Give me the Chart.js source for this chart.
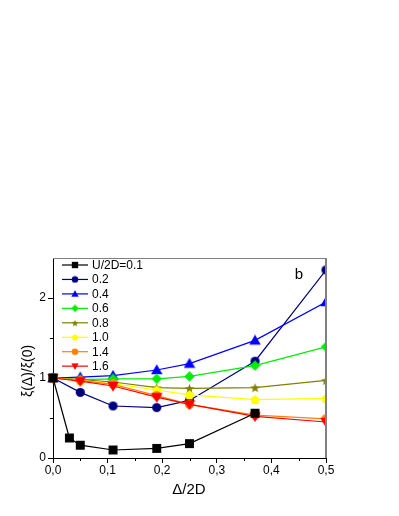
<!DOCTYPE html>
<html>
<head>
<meta charset="utf-8">
<script src="https://cdn.jsdelivr.net/npm/chart.js@4"></script>
<style>
  html, body { margin: 0; padding: 0; background: #fff; }
  #wrap { width: 399px; height: 516px; position: relative; }
</style>
</head>
<body>
<div id="wrap"><canvas id="chart"></canvas></div>
<script>
// x positions (Δ/2D)
const xBlack = [0, 0.03, 0.05, 0.11, 0.19, 0.25, 0.37];
const xOthers = [0, 0.05, 0.11, 0.19, 0.25, 0.37, 0.5];

// ξ(Δ)/ξ(0) for each U/2D
const u01 = [1.0, 0.25, 0.16, 0.10, 0.12, 0.18, 0.56];
const u02 = [1.0, 0.82, 0.65, 0.63, 0.72, 1.21, 2.35];
const u04 = [1.0, 1.01, 1.03, 1.10, 1.18, 1.47, 1.95];
const u06 = [1.0, 0.98, 0.99, 0.99, 1.02, 1.155, 1.39];
const u08 = [1.0, 0.98, 0.95, 0.88, 0.87, 0.88, 0.97];
const u10 = [1.0, 0.97, 0.93, 0.85, 0.79, 0.73, 0.745];
const u14 = [1.0, 0.97, 0.92, 0.78, 0.67, 0.535, 0.49];
const u16 = [1.0, 0.96, 0.90, 0.76, 0.67, 0.52, 0.45];

const seriesLabels = ["U/2D=0.1", "0.2", "0.4", "0.6", "0.8", "1.0", "1.4", "1.6"];
const xTicks = [0, 0.1, 0.2, 0.3, 0.4, 0.5];
const yTicks = [0, 1, 2];

const FONT = "'Liberation Sans', Arial, sans-serif";

// draw a marker shape into a small canvas, used as pointStyle
function makeMarker(shape, color, size) {
  const c = document.createElement("canvas");
  c.width = size;
  c.height = size;
  const ctx = c.getContext("2d");
  const m = size / 2;
  const r = size / 2 - 0.3;
  ctx.fillStyle = color;
  ctx.beginPath();
  if (shape === "square") {
    const h = r * 0.86;
    ctx.rect(m - h, m - h, h * 2, h * 2);
  } else if (shape === "circle") {
    ctx.arc(m, m, r * 0.88, 0, Math.PI * 2);
  } else if (shape === "triUp") {
    ctx.moveTo(m, m - r);
    ctx.lineTo(m + r, m + r * 0.75);
    ctx.lineTo(m - r, m + r * 0.75);
  } else if (shape === "triDown") {
    ctx.moveTo(m, m + r);
    ctx.lineTo(m + r, m - r * 0.75);
    ctx.lineTo(m - r, m - r * 0.75);
  } else if (shape === "diamond") {
    ctx.moveTo(m, m - r);
    ctx.lineTo(m + r, m);
    ctx.lineTo(m, m + r);
    ctx.lineTo(m - r, m);
  } else if (shape === "star") {
    for (let i = 0; i < 10; i++) {
      const rr = i % 2 === 0 ? r : r * 0.42;
      const a = -Math.PI / 2 + (i * Math.PI) / 5;
      const px = m + rr * Math.cos(a);
      const py = m + 0.6 + rr * Math.sin(a);
      if (i === 0) ctx.moveTo(px, py); else ctx.lineTo(px, py);
    }
  } else if (shape === "pentagon") {
    for (let i = 0; i < 5; i++) {
      const a = -Math.PI / 2 + (i * 2 * Math.PI) / 5;
      const px = m + r * 0.95 * Math.cos(a);
      const py = m + 0.5 + r * 0.95 * Math.sin(a);
      if (i === 0) ctx.moveTo(px, py); else ctx.lineTo(px, py);
    }
  }
  ctx.closePath();
  ctx.fill();
  return c;
}

const styles = [
  { color: "#000000", shape: "square", size: 11 },
  { color: "#00007f", shape: "circle", size: 11 },
  { color: "#0000ff", shape: "triUp", size: 12 },
  { color: "#00ee00", shape: "diamond", size: 11 },
  { color: "#808000", shape: "star", size: 11 },
  { color: "#ffff00", shape: "pentagon", size: 11 },
  { color: "#ff8000", shape: "circle", size: 11 },
  { color: "#ff0000", shape: "triDown", size: 12 }
];

const allValues = [u01, u02, u04, u06, u08, u10, u14, u16];
const drawOrder = [0, 7, 6, 5, 4, 3, 2, 1];

const datasets = allValues.map((vals, i) => {
  const xs = i === 0 ? xBlack : xOthers;
  const st = styles[i];
  const marker = makeMarker(st.shape, st.color, st.size);
  st.legendMarker = makeMarker(st.shape, st.color, 8);
  return {
    label: seriesLabels[i],
    data: xs.map((x, k) => ({ x: x, y: vals[k] })),
    borderColor: st.color,
    backgroundColor: st.color,
    borderWidth: 1.2,
    tension: 0,
    pointStyle: marker,
    pointRadius: 5,
    order: drawOrder[i],
    clip: { left: 10, top: 10, right: 0, bottom: 10 }
  };
});

const frameAndText = {
  id: "frameAndText",
  afterDraw(chart) {
    const ctx = chart.ctx;
    const a = chart.chartArea;
    const xs = chart.scales.x;
    const ys = chart.scales.y;
    ctx.save();

    // top and right frame lines
    ctx.strokeStyle = "#808080";
    ctx.lineWidth = 1;
    ctx.beginPath();
    ctx.moveTo(a.left, a.top + 0.5);
    ctx.lineTo(a.right, a.top + 0.5);
    ctx.stroke();
    ctx.lineWidth = 2;
    ctx.beginPath();
    ctx.moveTo(a.right, a.top);
    ctx.lineTo(a.right, a.bottom);
    ctx.stroke();

    // minor ticks
    ctx.strokeStyle = "#000";
    ctx.lineWidth = 1;
    ctx.beginPath();
    [0.05, 0.15, 0.25, 0.35, 0.45].forEach((v) => {
      const px = Math.round(xs.getPixelForValue(v)) + 0.5;
      ctx.moveTo(px, a.bottom);
      ctx.lineTo(px, a.bottom + 3);
    });
    [0.5, 1.5].forEach((v) => {
      const py = Math.round(ys.getPixelForValue(v)) + 0.5;
      ctx.moveTo(a.left, py);
      ctx.lineTo(a.left - 3, py);
    });
    ctx.stroke();

    // legend
    ctx.font = "12px " + FONT;
    ctx.textBaseline = "middle";
    ctx.textAlign = "left";
    styles.forEach((st, i) => {
      const y = 265 + i * 14.45;
      ctx.strokeStyle = st.color;
      ctx.lineWidth = 1.2;
      ctx.beginPath();
      ctx.moveTo(62, y);
      ctx.lineTo(88, y);
      ctx.stroke();
      ctx.drawImage(st.legendMarker, 75 - 4, y - 4);
      ctx.fillStyle = "#000";
      ctx.fillText(seriesLabels[i], 92, y + 0.5);
    });

    // panel letter
    ctx.font = "15px " + FONT;
    ctx.textAlign = "center";
    ctx.fillText("b", 299, 275);

    // axis titles
    ctx.font = "15px " + FONT;
    ctx.fillText("Δ/2D", 189, 490);
    ctx.save();
    ctx.translate(28, 371);
    ctx.rotate(-Math.PI / 2);
    ctx.font = "14px " + FONT;
    ctx.fillText("ξ(Δ)/ξ(0)", 0, 0);
    ctx.restore();

    ctx.restore();
  }
};

new Chart(document.getElementById("chart"), {
  type: "line",
  data: { datasets: datasets },
  options: {
    responsive: true,
    maintainAspectRatio: false,
    animation: false,
    layout: { padding: { left: 13, right: 73, top: 258, bottom: 18 } },
    plugins: {
      legend: { display: false },
      tooltip: { enabled: false }
    },
    scales: {
      x: {
        type: "linear",
        min: 0,
        max: 0.5,
        afterFit: (s) => { s.height = 40; },
        afterBuildTicks: (s) => { s.ticks = xTicks.map((v) => ({ value: v })); },
        ticks: {
          padding: 0,
          color: "#000",
          maxRotation: 0,
          font: { family: FONT, size: 12 },
          callback: (v) => v.toFixed(1).replace(".", ",")
        },
        grid: { drawOnChartArea: false, tickLength: 5, color: "#000" },
        border: { color: "#000", width: 1 }
      },
      y: {
        type: "linear",
        min: 0,
        max: 2.5,
        afterFit: (s) => { s.width = 40; },
        afterBuildTicks: (s) => { s.ticks = yTicks.map((v) => ({ value: v })); },
        ticks: {
          padding: 2,
          color: "#000",
          font: { family: FONT, size: 12 },
          callback: (v) => String(v)
        },
        grid: { drawOnChartArea: false, tickLength: 5, color: "#000" },
        border: { color: "#000", width: 1 }
      }
    }
  },
  plugins: [frameAndText]
});
</script>
</body>
</html>
